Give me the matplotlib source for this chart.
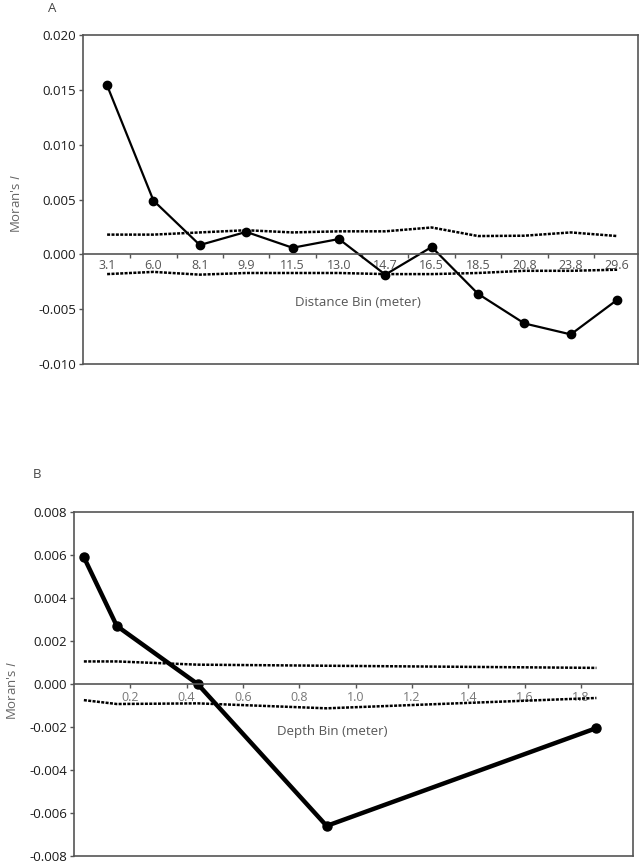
import numpy as np
import matplotlib
matplotlib.use('Agg')
import matplotlib.pyplot as plt

plt.rcParams['font.family'] = ['Open Sans', 'DejaVu Sans']
plt.rcParams['mathtext.fontset'] = 'custom'
plt.rcParams['mathtext.it'] = 'Open Sans:italic'

# Panel A: Moran's I by distance bin
dist_bins = ['3.1', '6.0', '8.1', '9.9', '11.5', '13.0', '14.7', '16.5',
             '18.5', '20.8', '23.8', '29.6']
moran_dist = [0.0154, 0.0049, 0.00085, 0.00205, 0.0006, 0.0014, -0.00185,
              0.00067, -0.0036, -0.0063, -0.0073, -0.00415]
upper_dist = [0.0018, 0.0018, 0.0020, 0.0022, 0.0020, 0.0021, 0.0021,
              0.00245, 0.00167, 0.0017, 0.0020, 0.00167]
lower_dist = [-0.0018, -0.0016, -0.00185, -0.0017, -0.0017, -0.0017,
              -0.0018, -0.0018, -0.0017, -0.0015, -0.0015, -0.0014]

# Panel B: Moran's I by depth bin
depth = [0.035, 0.152, 0.439, 0.897, 1.855]
moran_depth = [0.0059, 0.0027, 0.0, -0.0066, -0.00205]
upper_depth = [0.00105, 0.00105, 0.0009, 0.00085, 0.00075]
lower_depth = [-0.00075, -0.00093, -0.0009, -0.00113, -0.00065]
depth_ticks = [0.2, 0.4, 0.6, 0.8, 1.0, 1.2, 1.4, 1.6, 1.8]

SPINE = '#555555'
DASH = (0, (1.2, 0.55))

fig = plt.figure(figsize=(6.43, 8.63), dpi=100)
axA = fig.add_axes([0.1291, 0.5782, 0.8631, 0.3812])
axB = fig.add_axes([0.1151, 0.0081, 0.8694, 0.3986])


def frame(ax):
    for s in ['left', 'right', 'top']:
        ax.spines[s].set_color(SPINE)
        ax.spines[s].set_linewidth(1.2)
    ax.spines['bottom'].set_position(('data', 0))
    ax.spines['bottom'].set_color(SPINE)
    ax.spines['bottom'].set_linewidth(1.2)
    # bottom edge of the box
    ax.plot([0, 1], [0, 0], transform=ax.transAxes, color=SPINE, lw=1.2,
            clip_on=False)
    ax.tick_params(axis='y', direction='out', length=3, width=1,
                   color=SPINE, labelsize=9.5, labelcolor='#1a1a1a', pad=2)


# ---- Panel A
x = np.arange(len(dist_bins))
axA.plot(x, upper_dist, color='black', lw=1.8, linestyle=DASH)
axA.plot(x, lower_dist, color='black', lw=1.8, linestyle=DASH)
axA.plot(x, moran_dist, color='black', lw=1.6, marker='o', markersize=6)
axA.set_xlim(-0.52, 11.45)
axA.set_ylim(-0.010, 0.020)
axA.set_yticks([-0.010, -0.005, 0.0, 0.005, 0.010, 0.015, 0.020])
axA.set_yticklabels(['-0.010', '-0.005', '0.000', '0.005', '0.010',
                     '0.015', '0.020'])
frame(axA)
axA.set_xticks(x)
axA.set_xticklabels(dist_bins)
axA.set_xticks(x[:-1] + 0.5, minor=True)
axA.tick_params(axis='x', which='major', length=0, pad=3, labelsize=9,
                labelcolor='#555555')
axA.tick_params(axis='x', which='minor', direction='out', length=3,
                width=1, color=SPINE)
axA.text(5.41, -0.0044, 'Distance Bin (meter)', ha='center', va='center',
         fontsize=9.5, color='#555555')

# ---- Panel B
axB.plot(depth, upper_depth, color='black', lw=1.8, linestyle=DASH)
axB.plot(depth, lower_depth, color='black', lw=1.8, linestyle=DASH)
axB.plot(depth, moran_depth, color='black', lw=3.2, marker='o',
         markersize=6.5)
axB.set_xlim(0, 1.985)
axB.set_ylim(-0.008, 0.008)
axB.set_yticks(np.arange(-0.008, 0.0081, 0.002))
axB.set_yticklabels(['-0.008', '-0.006', '-0.004', '-0.002', '0.000',
                     '0.002', '0.004', '0.006', '0.008'])
frame(axB)
axB.set_xticks(depth_ticks)
axB.set_xticklabels([f'{t:.1f}' for t in depth_ticks])
axB.tick_params(axis='x', direction='out', length=3, width=1, color=SPINE,
                pad=2, labelsize=9, labelcolor='#777777')
axB.text(0.916, -0.00223, 'Depth Bin (meter)', ha='center', va='center',
         fontsize=9.5, color='#555555')

# y labels and panel letters
fig.text(16 / 643, 1 - 203 / 863, "Moran's $I$", rotation=90, ha='center',
         va='center', fontsize=9.5, color='#666666')
fig.text(12 / 643, 1 - 690 / 863, "Moran's $I$", rotation=90, ha='center',
         va='center', fontsize=9.5, color='#666666')
fig.text(52 / 643, 1 - 9 / 863, 'A', ha='center', va='center',
         fontsize=9.5, color='#444444')
fig.text(37 / 643, 1 - 475 / 863, 'B', ha='center', va='center',
         fontsize=9.5, color='#444444')

fig.savefig('out.png', dpi=100)
